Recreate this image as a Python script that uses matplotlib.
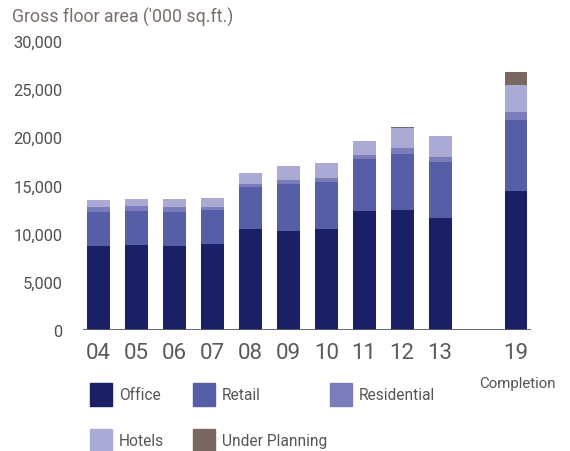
import matplotlib
matplotlib.use("Agg")
import numpy as np
import matplotlib.pyplot as plt
from matplotlib.patches import Rectangle

plt.rcParams['font.family'] = ['Roboto', 'DejaVu Sans']

# --- Dados (área bruta, '000 sq.ft.) ---
anos = ['04', '05', '06', '07', '08', '09', '10', '11', '12', '13', '', '19']
escritorio = [8700, 8800, 8700, 8900, 10450, 10300, 10500, 12300, 12500, 11600, 0, 14400]
varejo = [3500, 3500, 3500, 3500, 4350, 4900, 4900, 5400, 5800, 5800, 0, 7400]
residencial = [600, 600, 600, 400, 400, 400, 400, 500, 600, 600, 0, 850]
hoteis = [650, 650, 750, 850, 1050, 1450, 1500, 1450, 2100, 2100, 0, 2800]
planejamento = [0, 0, 0, 0, 0, 0, 0, 0, 40, 40, 0, 1350]

series = [
    ('Office', escritorio, '#1b1f66'),
    ('Retail', varejo, '#575ea8'),
    ('Residential', residencial, '#7b7dbb'),
    ('Hotels', hoteis, '#aaaad4'),
    ('Under Planning', planejamento, '#786861'),
]

fig = plt.figure(figsize=(5.7, 4.52), dpi=100)
ax = fig.add_axes([0.146, 0.268, 0.786, 0.639])

x = np.arange(len(anos))
base = np.zeros(len(anos))
for nome, valores, cor in series:
    ax.bar(x, valores, 0.6, bottom=base, color=cor, linewidth=0, zorder=2)
    base += np.array(valores)

# linha de base
ax.axhline(0, color='#5a5d68', lw=1.3, zorder=3)

ax.set_xlim(-0.4, len(anos) - 0.6)
ax.set_ylim(0, 30000)
ax.set_yticks(np.arange(0, 30001, 5000))
ax.set_yticklabels([f'{v:,}' for v in range(0, 30001, 5000)])
ax.set_xticks(x)
ax.set_xticklabels(anos)
for s in ax.spines.values():
    s.set_visible(False)
ax.tick_params(axis='y', length=0, pad=15, labelsize=11.8, labelcolor='#505050')
ax.tick_params(axis='x', length=0, pad=9, labelsize=16, labelcolor='#5a5a5a')

fig.text(0.021, 0.962, "Gross floor area ('000 sq.ft.)", fontsize=12.8,
         color='#7a6e6a', va='center', ha='left')
fig.text(0.907, 0.151, 'Completion', fontsize=10.8, color='#555555',
         ha='center', va='center')

# --- Legenda manual ---
posicoes = [(90, 384), (193, 384), (330, 384), (90, 430), (193, 430)]
W, H = 570, 452
for (px, py), (nome, _, cor) in zip(posicoes, series):
    fig.patches.append(Rectangle((px / W, 1 - (py + 23) / H), 22 / W, 23 / H,
                                 transform=fig.transFigure, color=cor, figure=fig))
    fig.text((px + 29) / W, 1 - (py + 12) / H, nome, fontsize=11.2,
             color='#555555', va='center', ha='left')

fig.savefig('out.png', dpi=100)
